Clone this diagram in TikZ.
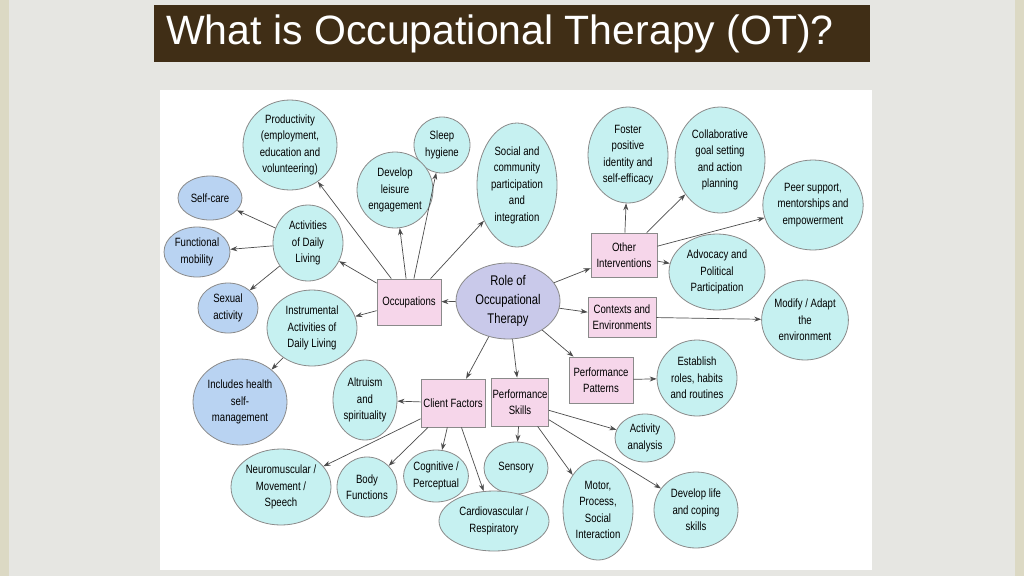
\documentclass[tikz,border=0pt]{standalone}
\usepackage{fontspec}
\setmainfont{Liberation Sans}
\newfontfamily\narrow[FakeStretch=0.8]{Liberation Sans}
\usetikzlibrary{arrows.meta,shapes.geometric}
\definecolor{cy}{HTML}{C6F1F1}
\definecolor{bl}{HTML}{B9D3F2}
\definecolor{pk}{HTML}{F6D6EA}
\definecolor{lv}{HTML}{C9C9EA}
\definecolor{bdr}{HTML}{8A8A8A}
\definecolor{bg}{HTML}{E6E6E2}
\definecolor{edge}{HTML}{DCD9C4}
\definecolor{tbrown}{HTML}{402E16}
\tikzset{
 ov/.style={ellipse,draw=bdr,fill=cy,align=center,font=\narrow\fontsize{12}{16.5}\selectfont,inner sep=0pt,line width=0.8pt},
 bov/.style={ov,fill=bl},
 bx/.style={rectangle,draw=bdr,fill=pk,align=center,font=\narrow\fontsize{12}{16.5}\selectfont,line width=0.8pt,inner sep=1pt},
 ar/.style={-{Stealth[length=7pt,width=5pt]},draw=black!70,line width=0.7pt}
}
\begin{document}
\begin{tikzpicture}[x=1pt,y=-1pt]
\fill[bg] (0,0) rectangle (1024,576);
\fill[edge] (0,0) rectangle (9,576);
\fill[edge] (1015,0) rectangle (1024,576);
\node[fill=tbrown,minimum width=716pt,minimum height=57pt,anchor=north west,inner sep=0pt] (tb) at (154,5) {};
\node[anchor=west,text=white,font=\fontsize{41}{45}\selectfont,inner sep=0pt] (tt) at (166,34) {What is Occupational Therapy (OT)?};
\fill[white] (160,90) rectangle (872,570);

\node[ov,minimum width=94pt,minimum height=90pt] (prod) at (290,145) {Productivity\\(employment,\\education and\\volunteering)};
\node[ov,minimum width=56pt,minimum height=56pt] (sleep) at (442,145) {Sleep\\hygiene};
\node[ov,minimum width=76pt,minimum height=76pt] (leis) at (395,190) {Develop\\leisure\\engagement};
\node[ov,minimum width=80pt,minimum height=124pt] (soc) at (517,185) {Social and\\community\\participation\\and\\integration};
\node[bov,minimum width=64pt,minimum height=44pt] (self) at (210,198) {Self-care};
\node[ov,minimum width=70pt,minimum height=76pt] (adl) at (308,243) {Activities\\of Daily\\Living};
\node[bov,minimum width=66pt,minimum height=50pt] (fm) at (197,252) {Functional\\mobility};
\node[bov,minimum width=60pt,minimum height=50pt] (sex) at (228,308) {Sexual\\activity};
\node[ov,minimum width=90pt,minimum height=76pt] (iadl) at (312,328) {Instrumental\\Activities of\\Daily Living};
\node[bov,minimum width=94pt,minimum height=86pt] (hsm) at (240,402) {Includes health\\self-\\management};
\node[bx,minimum width=64pt,minimum height=46pt] (occ) at (409,302) {Occupations};
\node[ellipse,draw=bdr,fill=lv,align=center,font=\narrow\fontsize{14}{19}\selectfont,inner sep=0pt,minimum width=104pt,minimum height=76pt,line width=0.8pt] (role) at (508,301) {Role of\\Occupational\\Therapy};
\node[ov,minimum width=80pt,minimum height=96pt] (fost) at (628,155) {Foster\\positive\\identity and\\self-efficacy};
\node[ov,minimum width=90pt,minimum height=106pt] (coll) at (720,160) {Collaborative\\goal setting\\and action\\planning};
\node[ov,minimum width=96pt,minimum height=90pt] (peer) at (813,205) {Peer support,\\mentorships and\\empowerment};
\node[bx,minimum width=66pt,minimum height=44pt] (oth) at (624,255) {Other\\Interventions};
\node[ov,minimum width=96pt,minimum height=76pt] (adv) at (717,272) {Advocacy and\\Political\\Participation};
\node[bx,minimum width=68pt,minimum height=40pt] (ctx) at (622,317) {Contexts and\\Environments};
\node[ov,minimum width=84pt,minimum height=80pt] (mod) at (805,320) {Modify / Adapt\\the\\environment};
\node[bx,minimum width=64pt,minimum height=46pt] (pat) at (601,380) {Performance\\Patterns};
\node[ov,minimum width=80pt,minimum height=76pt] (est) at (697,378) {Establish\\roles, habits\\and routines};
\node[ov,minimum width=64pt,minimum height=80pt] (alt) at (365,400) {Altruism\\and\\spirituality};
\node[bx,minimum width=64pt,minimum height=48pt] (cf) at (453,403) {Client Factors};
\node[bx,minimum width=50pt,minimum height=48pt] (ps) at (520,402) {Performance\\Skills};
\node[ov,minimum width=60pt,minimum height=48pt] (act) at (645,438) {Activity\\analysis};
\node[ov,minimum width=100pt,minimum height=76pt] (neu) at (281,487) {Neuromuscular /\\Movement /\\Speech};
\node[ov,minimum width=60pt,minimum height=60pt] (body) at (367,487) {Body\\Functions};
\node[ov,minimum width=60pt,minimum height=52pt] (cog) at (436,476) {Cognitive /\\Perceptual};
\node[ov,minimum width=64pt,minimum height=52pt] (sens) at (516,468) {Sensory};
\node[ov,minimum width=110pt,minimum height=60pt] (card) at (494,521) {Cardiovascular /\\Respiratory};
\node[ov,minimum width=70pt,minimum height=100pt] (mot) at (598,510) {Motor,\\Process,\\Social\\Interaction};
\node[ov,minimum width=84pt,minimum height=76pt] (dev) at (696,510) {Develop life\\and coping\\skills};

\foreach \t in {occ,oth,ctx,pat,cf,ps} \draw[ar] (role) -- (\t);
\foreach \t in {prod,sleep,leis,soc,adl,iadl} \draw[ar] (occ) -- (\t);
\foreach \t in {self,fm,sex} \draw[ar] (adl) -- (\t);
\draw[ar] (iadl) -- (hsm);
\foreach \t in {fost,coll,peer,adv} \draw[ar] (oth) -- (\t);
\draw[ar] (ctx) -- (mod);
\draw[ar] (pat) -- (est);
\foreach \t in {alt,neu,body,cog,card} \draw[ar] (cf) -- (\t);
\foreach \t in {sens,mot,act,dev} \draw[ar] (ps) -- (\t);
\end{tikzpicture}
\end{document}
